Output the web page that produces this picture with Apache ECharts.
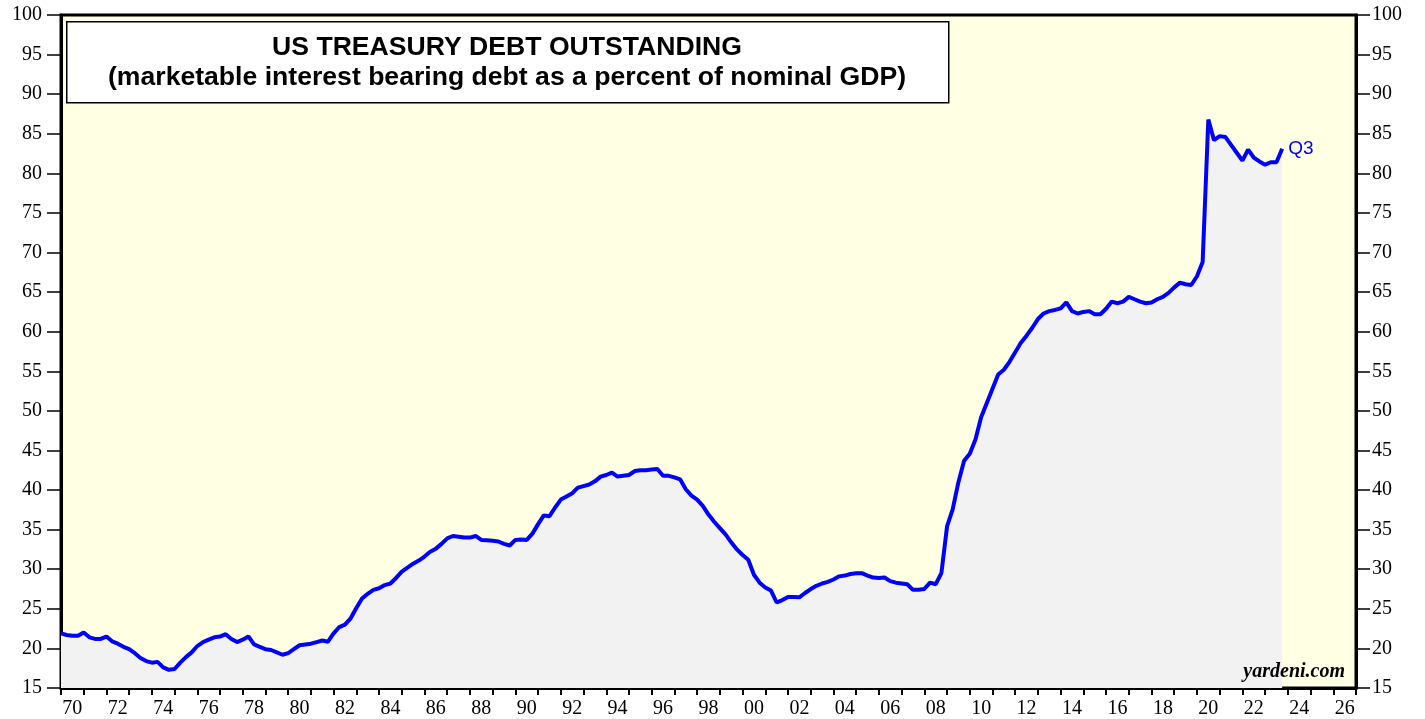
<!DOCTYPE html>
<html>
<head>
<meta charset="utf-8">
<script src="https://cdn.jsdelivr.net/npm/echarts@6/dist/echarts.min.js"></script>
<style>
  html, body { margin: 0; padding: 0; background: #fff; }
  #chart { width: 1425px; height: 719px; }
</style>
</head>
<body>
<div id="chart"></div>
<script>
// quarterly values, % of nominal GDP, one array per decade (first point at 1970.0)
var q1970s = [
    21.9, 21.7, 21.6, 21.6,  22.0, 21.4, 21.2, 21.2,  21.5, 20.9, 20.6, 20.2,
    19.9, 19.4, 18.8, 18.4,  18.2, 18.3, 17.6, 17.3,  17.4, 18.2, 18.9, 19.5,
    20.3, 20.8, 21.1, 21.4,  21.5, 21.8, 21.2, 20.8,  21.1, 21.5, 20.5, 20.2,
    19.9, 19.8, 19.5, 19.2
];
var q1980s = [
    19.4, 19.9, 20.4, 20.5,  20.6, 20.8, 21.0, 20.85, 21.9, 22.7, 23.0, 23.8,
    25.1, 26.3, 26.9, 27.4,  27.6, 28.0, 28.2, 28.9,  29.7, 30.2, 30.7, 31.1,
    31.6, 32.2, 32.6, 33.2,  33.9, 34.2, 34.1, 34.0,  34.0, 34.2, 33.7, 33.65,
    33.6, 33.5, 33.2, 33.0
];
var q1990s = [
    33.7, 33.75, 33.7, 34.5, 35.7, 36.8, 36.7, 37.8,  38.8, 39.2, 39.6, 40.3,
    40.5, 40.7, 41.1, 41.7,  41.9, 42.2, 41.7, 41.8,  41.9, 42.4, 42.5, 42.5,
    42.6, 42.65, 41.8, 41.8, 41.6, 41.35, 40.1, 39.3, 38.8, 38.0, 36.9, 36.0,
    35.2, 34.4, 33.4, 32.5
];
var q2000s = [
    31.8, 31.2, 29.3, 28.3,  27.7, 27.3, 25.8, 26.1,  26.5, 26.5, 26.45, 27.0,
    27.5, 27.9, 28.2, 28.4,  28.7, 29.1, 29.2, 29.4,  29.5, 29.5, 29.2, 28.95,
    28.9, 28.95, 28.5, 28.3, 28.2, 28.1, 27.4, 27.4,  27.5, 28.3, 28.1, 29.5,
    35.4, 37.6, 41.0, 43.7
];
var q2010s = [
    44.6, 46.4, 49.2, 51.0,  52.8, 54.6, 55.2, 56.2,  57.4, 58.6, 59.5, 60.5,
    61.6, 62.3, 62.6, 62.75, 62.95, 63.7, 62.6, 62.3, 62.5, 62.6, 62.2, 62.2,
    62.9, 63.8, 63.6, 63.8,  64.4, 64.1, 63.8, 63.6,  63.7, 64.1, 64.4, 64.9,
    65.6, 66.2, 66.0, 65.9
];
var q2020s = [
    67.0, 68.8, 86.8, 84.2,  84.7, 84.6, 83.6, 82.6,  81.6, 83.0, 82.0, 81.5,
    81.1, 81.4, 81.4, 83.1
];
var startYear = 1970;
var yearLabels = ['70','71','72','73','74','75','76','77','78','79',
    '80','81','82','83','84','85','86','87','88','89',
    '90','91','92','93','94','95','96','97','98','99',
    '00','01','02','03','04','05','06','07','08','09',
    '10','11','12','13','14','15','16','17','18','19',
    '20','21','22','23','24','25','26'];
var titleLine1 = 'US TREASURY DEBT OUTSTANDING';
var titleLine2 = '(marketable interest bearing debt as a percent of nominal GDP)';

var values = q1970s.concat(q1980s, q1990s, q2000s, q2010s, q2020s);
var mydata = values.map(function (v, i) {
    return [startYear + i / 4, v];
});

function yAxisFor(pos, margin) {
    return {
        type: 'value',
        position: pos,
        min: 15,
        max: 100,
        interval: 5,
        axisLine: { show: true, lineStyle: { color: '#000', width: 3 } },
        axisTick: { show: true, inside: false, length: 14, lineStyle: { color: '#000', width: 1.5 } },
        axisLabel: { inside: false, color: '#000', fontFamily: 'Liberation Serif', fontSize: 20, margin: margin },
        splitLine: { show: false }
    };
}

var option = {
    backgroundColor: '#fff',
    animation: false,
    grid: {
        left: 61, right: 69, top: 15, bottom: 31,
        show: true,
        backgroundColor: '#FFFFE3',
        borderColor: '#000',
        borderWidth: 3
    },
    xAxis: [{
        type: 'category',
        data: yearLabels,
        boundaryGap: true,
        axisLine: { show: true, lineStyle: { color: '#000', width: 3 } },
        axisTick: { show: true, interval: 0, length: 7, lineStyle: { color: '#000', width: 2 } },
        axisLabel: { interval: 1, color: '#000', fontFamily: 'Liberation Serif', fontSize: 20, margin: 11 },
        splitLine: { show: false }
    }, {
        type: 'value',
        min: 1970,
        max: 2027,
        show: false
    }],
    yAxis: [yAxisFor('left', 19), yAxisFor('right', 16)],
    series: [{
        type: 'line',
        xAxisIndex: 1,
        yAxisIndex: 0,
        data: mydata,
        symbol: 'none',
        lineStyle: { color: '#0000FF', width: 4 },
        areaStyle: { color: '#F2F2F2', opacity: 1 },
        endLabel: {
            show: true,
            formatter: 'Q3',
            color: '#0000FF',
            fontFamily: 'Liberation Sans',
            fontSize: 19,
            distance: 6
        },
        z: 3
    }],
    graphic: [{
        type: 'rect',
        left: 66, top: 21,
        shape: { width: 882, height: 81 },
        style: { fill: '#fff', stroke: '#000', lineWidth: 1.5 },
        z: 10
    }, {
        type: 'text',
        style: {
            x: 507,
            y: 48,
            text: titleLine1,
            textAlign: 'center',
            textVerticalAlign: 'middle',
            fill: '#000',
            font: 'bold 26.6px "Liberation Sans"'
        },
        z: 11
    }, {
        type: 'text',
        style: {
            x: 507,
            y: 78,
            text: titleLine2,
            textAlign: 'center',
            textVerticalAlign: 'middle',
            fill: '#000',
            font: 'bold 26.6px "Liberation Sans"'
        },
        z: 11
    }, {
        type: 'text',
        right: 80,
        top: 662,
        style: {
            text: 'yardeni.com',
            fill: '#000',
            font: 'italic bold 20px "Liberation Serif"'
        },
        z: 11
    }]
};

var chart = echarts.init(document.getElementById('chart'));
chart.setOption(option);
</script>
</body>
</html>
